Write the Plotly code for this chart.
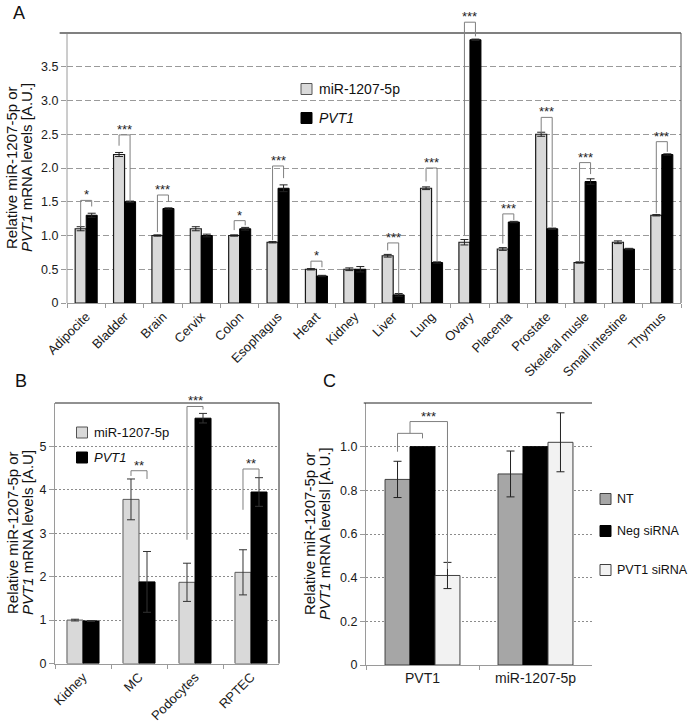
import plotly.graph_objects as go

W, H = 690, 725
FONT = "Liberation Sans, Arial, sans-serif"

# ---------------- Panel A data ----------------
tissues = ["Adipocite", "Bladder", "Brain", "Cervix", "Colon", "Esophagus", "Heart", "Kidney",
           "Liver", "Lung", "Ovary", "Placenta", "Prostate", "Skeletal musle", "Small intestine", "Thymus"]
a_mir = [1.1, 2.2, 1.0, 1.1, 1.0, 0.9, 0.5, 0.5, 0.7, 1.7, 0.9, 0.8, 2.5, 0.6, 0.9, 1.3]
a_mir_err = [0.03, 0.03, 0.01, 0.03, 0.01, 0.01, 0.01, 0.02, 0.02, 0.02, 0.04, 0.02, 0.03, 0.01, 0.02, 0.01]
a_pvt1 = [1.3, 1.5, 1.4, 1.0, 1.1, 1.7, 0.4, 0.5, 0.12, 0.6, 3.9, 1.2, 1.1, 1.8, 0.8, 2.2]
a_pvt1_err = [0.03, 0.01, 0.01, 0.02, 0.02, 0.05, 0.01, 0.04, 0.02, 0.01, 0.01, 0.01, 0.01, 0.04, 0.01, 0.01]
a_sig = ["*", "***", "***", "", "*", "***", "*", "", "***", "***", "***", "***", "***", "***", "", "***"]
a_br_top = [1.52, 2.49, 1.60, None, 1.22, 2.03, 0.62, None, 0.89, 2.00, 4.16, 1.32, 2.75, 2.08, None, 2.39]
a_br_left = [1.13, 2.33, 1.05, None, 1.08, 0.93, 0.52, None, 0.78, 1.80, 1.00, 0.88, 2.51, 0.61, None, 1.33]
a_br_right = [1.43, 1.50, 1.50, None, 1.15, 1.85, 0.53, None, 0.14, 0.61, 3.95, 1.23, 1.13, 1.91, None, 2.24]
a_yticks = [0, 0.5, 1.0, 1.5, 2.0, 2.5, 3.0, 3.5]
a_yticklabels = ["0", "0.5", "1.0", "1.5", "2.0", "2.5", "3.0", "3.5"]
a_ymax = 4.0

# ---------------- Panel B data ----------------
b_cats = ["Kidney", "MC", "Podocytes", "RPTEC"]
b_mir = [1.0, 3.78, 1.87, 2.1]
b_mir_err = [0.02, 0.47, 0.44, 0.52]
b_pvt1 = [0.98, 1.88, 5.65, 3.95]
b_pvt1_err = [0.01, 0.70, 0.11, 0.33]
b_sig = ["", "**", "***", "**"]
b_br_top = [None, 4.44, 5.92, 4.48]
b_br_left = [None, 4.32, 2.85, 3.54]
b_br_right = [None, 4.25, 5.85, 4.29]
b_yticks = [0, 1, 2, 3, 4, 5]
b_ymax = 6.0

# ---------------- Panel C data ----------------
c_cats = ["PVT1", "miR-1207-5p"]
c_series = ["NT", "Neg siRNA", "PVT1 siRNA"]
c_nt = [0.85, 0.875]
c_nt_err = [0.083, 0.105]
c_neg = [1.0, 1.0]
c_neg_err = [0.0, 0.0]
c_si = [0.41, 1.02]
c_si_err = [0.06, 0.135]
c_yticks = [0, 0.2, 0.4, 0.6, 0.8, 1.0]
c_yticklabels = ["0", "0.2", "0.4", "0.6", "0.8", "1.0"]
c_ymax = 1.2
# bracket NT vs Neg (PVT1 group), then joint vs PVT1 siRNA
c_br1 = dict(top=1.061, left=0.977, right=1.038)
c_br2 = dict(top=1.115, right=0.44, label="***")


def px2x(px):
    return px / W


def py2y(py):
    return 1 - py / H


fig = go.Figure()

# ---------- Panel A bars ----------
AW = 0.287
fig.add_trace(go.Bar(x=tissues, y=a_mir, width=AW, offset=-AW, name="miR-1207-5p",
                     marker=dict(color="#d9d9d9", line=dict(color="#1a1a1a", width=1.2)),
                     error_y=dict(type="data", array=a_mir_err, color="#222", thickness=1, width=4),
                     xaxis="x", yaxis="y", showlegend=False))
fig.add_trace(go.Bar(x=tissues, y=a_pvt1, width=AW, offset=0, name="PVT1",
                     marker=dict(color="#000000", line=dict(color="#000000", width=1)),
                     error_y=dict(type="data", array=a_pvt1_err, color="#222", thickness=1, width=4),
                     xaxis="x", yaxis="y", showlegend=False))

# ---------- Panel B bars ----------
BW = 0.286
fig.add_trace(go.Bar(x=b_cats, y=b_mir, width=BW, offset=-BW, name="miR-1207-5p",
                     marker=dict(color="#d9d9d9", line=dict(color="#595959", width=1)),
                     error_y=dict(type="data", array=b_mir_err, color="#333", thickness=1, width=4),
                     xaxis="x2", yaxis="y2", showlegend=False))
fig.add_trace(go.Bar(x=b_cats, y=b_pvt1, width=BW, offset=0, name="PVT1",
                     marker=dict(color="#000000", line=dict(color="#000000", width=1)),
                     error_y=dict(type="data", array=b_pvt1_err, color="#333", thickness=1, width=4),
                     xaxis="x2", yaxis="y2", showlegend=False))

# ---------- Panel C bars ----------
CW = 0.221
c_colors = ["#a6a6a6", "#000000", "#f2f2f2"]
c_lines = ["#404040", "#000000", "#404040"]
c_vals = [c_nt, c_neg, c_si]
c_errs = [c_nt_err, c_neg_err, c_si_err]
for k in range(3):
    fig.add_trace(go.Bar(x=c_cats, y=c_vals[k], width=CW, offset=-1.5 * CW + k * CW, name=c_series[k],
                         marker=dict(color=c_colors[k], line=dict(color=c_lines[k], width=1)),
                         error_y=dict(type="data", array=c_errs[k], color="#222", thickness=1, width=4,
                                      visible=(k != 1)),
                         xaxis="x3", yaxis="y3", showlegend=False))

shapes = []
annotations = []


def line(xref, yref, x0, y0, x1, y1, color, width=1):
    shapes.append(dict(type="line", xref=xref, yref=yref, x0=x0, y0=y0, x1=x1, y1=y1,
                       line=dict(color=color, width=width), layer="above"))


def star(xref, yref, x, y, text, size=13):
    annotations.append(dict(xref=xref, yref=yref, x=x, y=y, text=text, showarrow=False,
                            yanchor="bottom", xanchor="center", yshift=-4,
                            font=dict(family=FONT, size=size, color="#222")))


BRC = "#7f7f7f"
# Panel A brackets
for i in range(len(tissues)):
    if a_br_top[i] is None:
        continue
    xl, xr = i - AW / 2, i + AW / 2
    line("x", "y", xl, a_br_left[i], xl, a_br_top[i], BRC)
    line("x", "y", xl, a_br_top[i], xr, a_br_top[i], BRC)
    line("x", "y", xr, a_br_top[i], xr, a_br_right[i], BRC)
    star("x", "y", i, a_br_top[i], a_sig[i])

# Panel B brackets
for i in range(len(b_cats)):
    if b_br_top[i] is None:
        continue
    xl, xr = i - BW / 2, i + BW / 2
    line("x2", "y2", xl, b_br_left[i], xl, b_br_top[i], BRC)
    line("x2", "y2", xl, b_br_top[i], xr, b_br_top[i], BRC)
    line("x2", "y2", xr, b_br_top[i], xr, b_br_right[i], BRC)
    star("x2", "y2", i, b_br_top[i], b_sig[i])

# Panel C brackets
x_nt, x_neg, x_si = -CW, 0.0, CW
line("x3", "y3", x_nt, c_br1["left"], x_nt, c_br1["top"], BRC)
line("x3", "y3", x_nt, c_br1["top"], x_neg, c_br1["top"], BRC)
line("x3", "y3", x_neg, c_br1["top"], x_neg, c_br1["right"], BRC)
xm = (x_nt + x_neg) / 2
line("x3", "y3", xm, c_br1["top"], xm, c_br2["top"], BRC)
line("x3", "y3", xm, c_br2["top"], x_si, c_br2["top"], BRC)
line("x3", "y3", x_si, c_br2["top"], x_si, c_br2["right"], BRC)
star("x3", "y3", (xm + x_si) / 2, c_br2["top"], c_br2["label"])

# ---------- frame lines ----------
A_RANGE_TOP = 4.3
ftop = a_ymax / A_RANGE_TOP
line("x domain", "y domain", 0, 0, 0, ftop, "#9a9a9a", 1)
line("x domain", "y domain", -0.012, ftop, 1, ftop, "#808080", 2)
line("x domain", "y domain", 1, 0, 1, ftop, "#555555", 1)

line("x2 domain", "y2 domain", 0, 1, 1, 1, "#222222", 1)
line("x2 domain", "y2 domain", 1, 0, 1, 1, "#222222", 1)

line("x3 domain", "y3 domain", -0.01, 1, 1, 1, "#222222", 1)

# ---------- legends (drawn) ----------
def legend_item(cx, cy, fill, edge, text, size, gap=11):
    shapes.append(dict(type="rect", xref="paper", yref="paper",
                       x0=px2x(cx - 5.5), x1=px2x(cx + 5.5), y0=py2y(cy + 5.5), y1=py2y(cy - 5.5),
                       fillcolor=fill, line=dict(color=edge, width=1), layer="above"))
    annotations.append(dict(xref="paper", yref="paper", x=px2x(cx + gap), y=py2y(cy), text=text,
                            showarrow=False, xanchor="left", yanchor="middle", borderpad=0,
                            font=dict(family=FONT, size=size, color="#111")))


legend_item(306.5, 89, "#d9d9d9", "#555555", "miR-1207-5p", 14)
legend_item(306.5, 118, "#000000", "#000000", "<i>PVT1</i>", 14)
legend_item(82, 432.5, "#d9d9d9", "#555555", "miR-1207-5p", 13)
legend_item(82, 457.5, "#000000", "#000000", "<i>PVT1</i>", 13)
for k, cy in enumerate([499, 531, 570]):
    legend_item(605.5, cy, c_colors[k], "#404040" if k != 1 else "#000000", c_series[k], 12.5, gap=10.5)

# ---------- axis titles (two lines each) ----------
def ytitle(x1, x2, yc, l1, l2):
    for xx, t in ((x1, l1), (x2, l2)):
        annotations.append(dict(xref="paper", yref="paper", x=px2x(xx), y=py2y(yc), text=t,
                                textangle=-90, showarrow=False, xanchor="center", yanchor="middle",
                                font=dict(family=FONT, size=15, color="#111")))


ytitle(11, 26, 168, "Relative miR-1207-5p or", "<i>PVT1</i> mRNA levels [A.U.]")
ytitle(12, 27, 533, "Relative miR-1207-5p or", "<i>PVT1</i> mRNA levels [A.U]")
ytitle(309, 324, 534, "Relative miR-1207-5p or", "<i>PVT1</i> mRNA levelsl [A.U.]")

# ---------- panel letters ----------
for lab, xx, yy in (("A", 19, 13), ("B", 21, 381), ("C", 329, 381)):
    annotations.append(dict(xref="paper", yref="paper", x=px2x(xx), y=py2y(yy), text=lab,
                            showarrow=False, xanchor="center", yanchor="middle",
                            font=dict(family=FONT, size=18, color="#111")))

tickfont = dict(family=FONT, size=13, color="#1a1a1a")
ytickfont = dict(family=FONT, size=12.5, color="#1a1a1a")

a_px_per_unit = (303 - 33) / a_ymax
fig.update_layout(
    width=W, height=H, autosize=False,
    margin=dict(l=0, r=0, t=0, b=0, autoexpand=False),
    paper_bgcolor="white", plot_bgcolor="white",
    barmode="overlay",
    xaxis=dict(domain=[px2x(67), px2x(681)], anchor="y", type="category", automargin=False,
               tickson="boundaries", ticks="outside", ticklen=4, tickcolor="#9a9a9a",
               showline=True, linecolor="#9a9a9a", linewidth=1, tickangle=-45,
               tickfont=tickfont, showgrid=False, zeroline=False),
    yaxis=dict(domain=[py2y(303), py2y(303 - A_RANGE_TOP * a_px_per_unit)], anchor="x",
               automargin=False,
               range=[0, A_RANGE_TOP], tickmode="array", tickvals=a_yticks, ticktext=a_yticklabels,
               ticks="outside", ticklen=5, tickcolor="#9a9a9a", showline=False,
               showgrid=True, gridcolor="#9a9a9a", gridwidth=1, griddash="6px,3px",
               zeroline=False, tickfont=ytickfont),
    xaxis2=dict(domain=[px2x(55), px2x(279)], anchor="y2", type="category", automargin=False,
                tickson="boundaries", ticks="outside", ticklen=4, tickcolor="#9a9a9a",
                showline=True, linecolor="#9a9a9a", linewidth=1, tickangle=-45,
                tickfont=tickfont, showgrid=False, zeroline=False),
    yaxis2=dict(domain=[py2y(663.5), py2y(403)], anchor="x2", range=[0, b_ymax], automargin=False,
                tickmode="array", tickvals=b_yticks, ticktext=[str(v) for v in b_yticks],
                ticks="outside", ticklen=5, tickcolor="#9a9a9a", showline=True,
                linecolor="#9a9a9a", linewidth=1,
                showgrid=True, gridcolor="#8c8c8c", gridwidth=1, griddash="2px,2px",
                zeroline=False, tickfont=ytickfont),
    xaxis3=dict(domain=[px2x(366), px2x(592)], anchor="y3", type="category", automargin=False,
                tickson="boundaries", ticks="outside", ticklen=4, tickcolor="#9a9a9a",
                showline=True, linecolor="#9a9a9a", linewidth=1, tickangle=0,
                tickfont=dict(family=FONT, size=14, color="#1a1a1a"), showgrid=False, zeroline=False),
    yaxis3=dict(domain=[py2y(665), py2y(403)], anchor="x3", range=[0, c_ymax], automargin=False,
                tickmode="array", tickvals=c_yticks, ticktext=c_yticklabels,
                ticks="outside", ticklen=5, tickcolor="#9a9a9a", showline=True,
                linecolor="#9a9a9a", linewidth=1,
                showgrid=True, gridcolor="#8c8c8c", gridwidth=1, griddash="2px,2px",
                zeroline=False, tickfont=ytickfont),
    shapes=shapes,
    annotations=annotations,
    showlegend=False,
)

fig.write_html("out.html", config={"displayModeBar": False},
               post_script="document.body.style.margin='0px';document.body.style.padding='0px';")
